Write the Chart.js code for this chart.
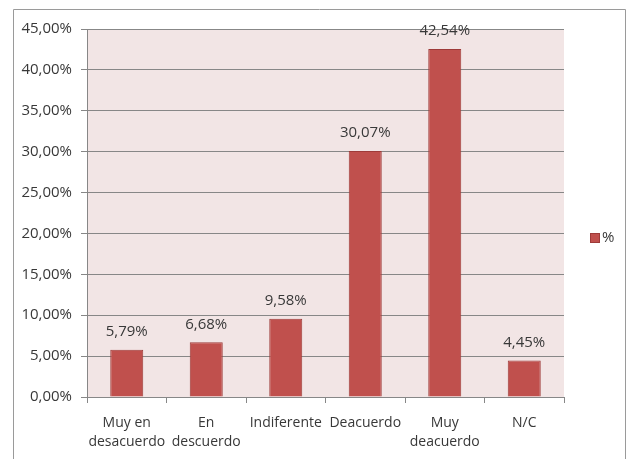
<!DOCTYPE html>
<html>
<head>
<meta charset="utf-8">
<script src="https://cdn.jsdelivr.net/npm/chart.js@4/dist/chart.umd.min.js"></script>
<style>
    html, body { margin: 0; padding: 0; background: #fff; }
    #wrap { width: 630px; height: 459px; }
</style>
</head>
<body>
<div id="wrap"><canvas id="encuesta" width="630" height="459"></canvas></div>
<script>
// Respuestas de la encuesta
const categorias = [['Muy en', 'desacuerdo'], ['En', 'descuerdo'], 'Indiferente', 'Deacuerdo', ['Muy', 'deacuerdo'], 'N/C'];
const porcentajes = [5.79, 6.68, 9.58, 30.07, 42.54, 4.45];
const etiquetaSerie = '%';

const textColor = '#383838';
const gridColor = '#878787';
const barColor = '#c0504d';
const fuente = 'Open Sans';

function formatoPct(v) {
    return v.toFixed(2).replace('.', ',') + '%';
}

// Fondo blanco, marco exterior y fondo rosado del area de trazado
const fondoPlugin = {
    id: 'fondo',
    beforeDraw(chart) {
        const ctx = chart.ctx;
        const a = chart.chartArea;
        ctx.save();
        ctx.fillStyle = '#ffffff';
        ctx.fillRect(0, 0, chart.width, chart.height);
        ctx.fillStyle = '#f2e5e5';
        ctx.fillRect(a.left, a.top, a.right - a.left, a.bottom - a.top);
        ctx.strokeStyle = '#9a9a9a';
        ctx.lineWidth = 1;
        ctx.beginPath();
        ctx.moveTo(13.5, chart.height);
        ctx.lineTo(13.5, 9.5);
        ctx.lineTo(625.5, 9.5);
        ctx.lineTo(625.5, chart.height);
        ctx.stroke();
        ctx.restore();
    }
};

// Valores encima de cada barra
const valoresPlugin = {
    id: 'valores',
    afterDatasetsDraw(chart) {
        const ctx = chart.ctx;
        const meta = chart.getDatasetMeta(0);
        ctx.save();
        ctx.font = '15px "' + fuente + '"';
        ctx.fillStyle = textColor;
        ctx.textAlign = 'center';
        ctx.textBaseline = 'middle';
        meta.data.forEach((bar, i) => {
            ctx.fillText(formatoPct(porcentajes[i]), bar.x, bar.y - 18);
        });
        ctx.restore();
    }
};

// Leyenda a la derecha
const leyendaPlugin = {
    id: 'leyenda',
    afterDraw(chart) {
        const ctx = chart.ctx;
        const ds = chart.data.datasets[0];
        ctx.save();
        ctx.fillStyle = ds.backgroundColor;
        ctx.fillRect(590, 233, 10, 10);
        ctx.strokeStyle = ds.borderColor;
        ctx.strokeRect(590.5, 233.5, 9, 9);
        ctx.font = '15px "' + fuente + '"';
        ctx.fillStyle = textColor;
        ctx.textBaseline = 'middle';
        ctx.fillText(ds.label, 602, 238);
        ctx.restore();
    }
};

new Chart(document.getElementById('encuesta'), {
    type: 'bar',
    data: {
        labels: categorias,
        datasets: [{
            label: etiquetaSerie,
            data: porcentajes,
            backgroundColor: barColor,
            borderColor: '#9e3b39',
            borderWidth: 1,
            categoryPercentage: 1,
            barPercentage: 0.415
        }]
    },
    options: {
        responsive: false,
        animation: false,
        devicePixelRatio: 1,
        layout: { padding: { top: 29, right: 66, left: 0, bottom: 0 } },
        plugins: {
            legend: { display: false },
            tooltip: { enabled: false }
        },
        scales: {
            x: {
                grid: {
                    drawOnChartArea: false,
                    drawTicks: true,
                    tickLength: 6,
                    tickColor: gridColor
                },
                border: { display: true, color: gridColor },
                ticks: {
                    color: textColor,
                    font: { family: fuente, size: 14, lineHeight: 1.38 },
                    padding: 10,
                    maxRotation: 0,
                    autoSkip: false
                },
                afterFit(scale) { scale.height = 62; }
            },
            y: {
                min: 0,
                max: 45,
                grid: {
                    color: gridColor,
                    tickLength: 6,
                    tickColor: gridColor
                },
                border: { display: true, color: gridColor },
                ticks: {
                    stepSize: 5,
                    color: textColor,
                    font: { family: fuente, size: 15 },
                    padding: 9,
                    callback: v => formatoPct(v)
                },
                afterFit(scale) { scale.width = 87; }
            }
        }
    },
    plugins: [fondoPlugin, valoresPlugin, leyendaPlugin]
});
</script>
</body>
</html>
